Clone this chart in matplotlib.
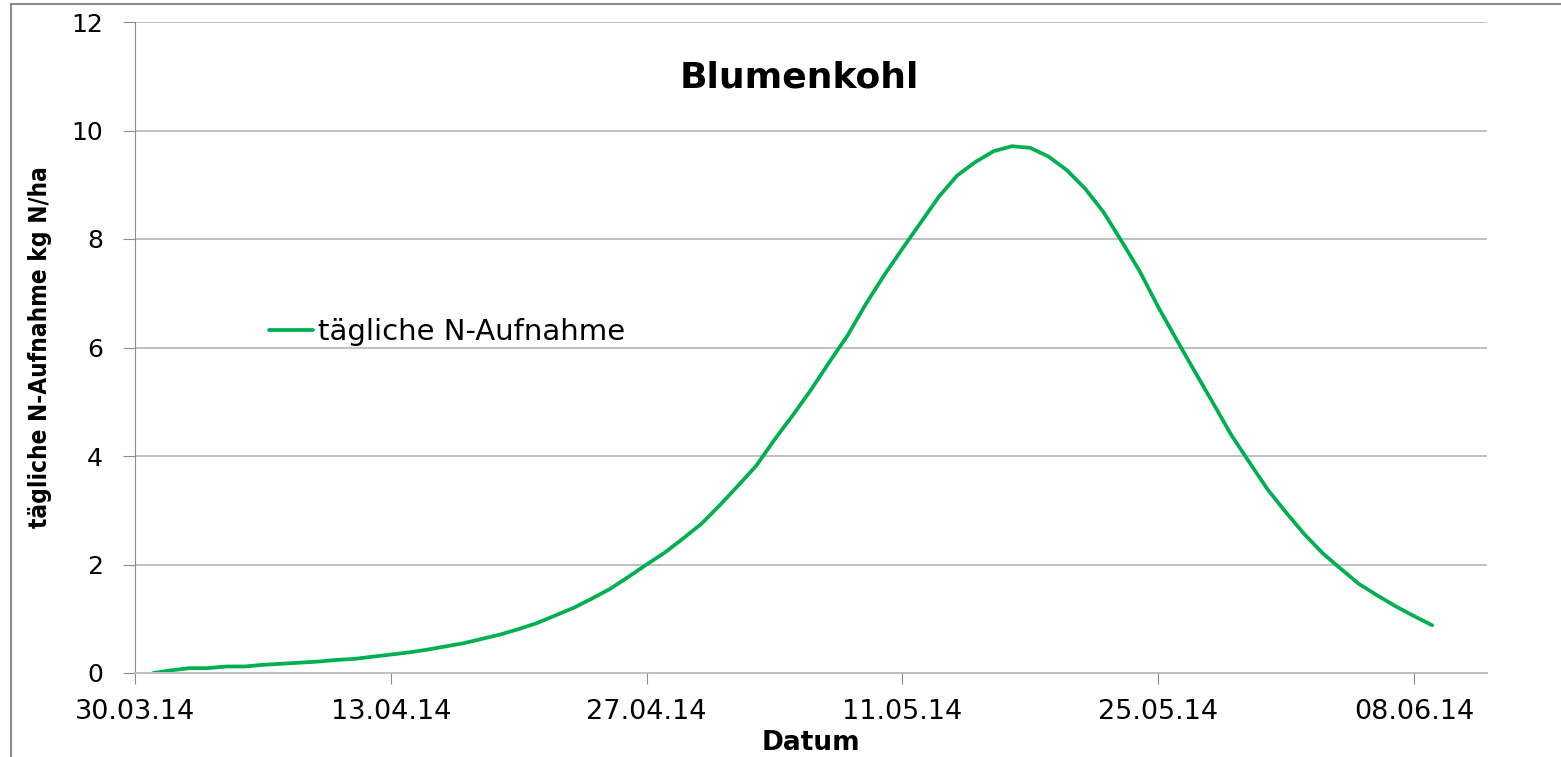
import numpy as np
import matplotlib
matplotlib.use("Agg")
import matplotlib.pyplot as plt
import matplotlib.dates as mdates
import pandas as pd
from matplotlib.lines import Line2D

# daily N uptake values (31.03.14 - 09.06.14)
dates = pd.date_range("2014-03-31", "2014-06-09", freq="D")
n_uptake = [0.00, 0.05, 0.09, 0.09, 0.12, 0.12, 0.15, 0.17, 0.19, 0.21,
            0.24, 0.26, 0.30, 0.34, 0.38, 0.43, 0.49, 0.55, 0.63, 0.71,
            0.81, 0.92, 1.06, 1.20, 1.37, 1.55, 1.77, 2.00, 2.22, 2.48,
            2.75, 3.09, 3.45, 3.82, 4.30, 4.75, 5.22, 5.73, 6.22, 6.80,
            7.33, 7.82, 8.30, 8.78, 9.17, 9.42, 9.62, 9.71, 9.68, 9.52,
            9.27, 8.93, 8.50, 7.96, 7.40, 6.75, 6.15, 5.56, 4.98, 4.39,
            3.88, 3.38, 2.96, 2.56, 2.21, 1.92, 1.64, 1.43, 1.23, 1.05,
            0.88]
tick_dates = pd.date_range("2014-03-30", "2014-06-08", freq="14D")

fig = plt.figure(figsize=(15.61, 7.57), dpi=100)
ax = fig.add_axes([135/1561, 1-673/757, (1487-135)/1561, (673-22)/757])

ax.plot(dates, n_uptake, color="#00b050", linewidth=2.7, solid_capstyle="round",
        label="tägliche N-Aufnahme")

ax.set_ylim(0, 12)
ax.set_yticks(range(0, 13, 2))
ax.set_xlim(pd.Timestamp("2014-03-30"), pd.Timestamp("2014-03-30") + pd.Timedelta(days=74))
ax.set_xticks(tick_dates)
ax.xaxis.set_major_formatter(mdates.DateFormatter("%d.%m.%y"))

ax.grid(axis="y", color="#c0c0c0", linewidth=1.4)
ax.set_axisbelow(True)
for s in ["top", "right"]:
    ax.spines[s].set_visible(False)
ax.spines["left"].set_color("#8c8c8c")
ax.spines["bottom"].set_color("#c0c0c0")
ax.spines["bottom"].set_linewidth(1.4)
ax.tick_params(axis="y", length=9, color="#8c8c8c", labelsize=18, pad=14)
ax.tick_params(axis="x", length=8, color="#8c8c8c", labelsize=19.5, pad=11)

ax.set_xlabel("Datum", fontsize=19, fontweight="bold", labelpad=3)
ax.set_ylabel("tägliche N-Aufnahme kg N/ha", fontsize=17.5, fontweight="bold",
              fontstretch="condensed", labelpad=14)

ax.text(0.491, 0.915, "Blumenkohl", transform=ax.transAxes, ha="center",
        va="center", fontsize=26, fontweight="bold")

ax.legend(loc="upper left", bbox_to_anchor=(0.08, 0.585), frameon=False,
          fontsize=21, handlelength=1.5, handletextpad=0.15)

# outer frame (top and left edges)
fig.add_artist(Line2D([11/1561, 11/1561], [0, 1-4/757], color="#8c8c8c", linewidth=1.5))
fig.add_artist(Line2D([11/1561, 1], [1-4/757, 1-4/757], color="#8c8c8c", linewidth=1.5))

fig.savefig("out.png", dpi=100)
